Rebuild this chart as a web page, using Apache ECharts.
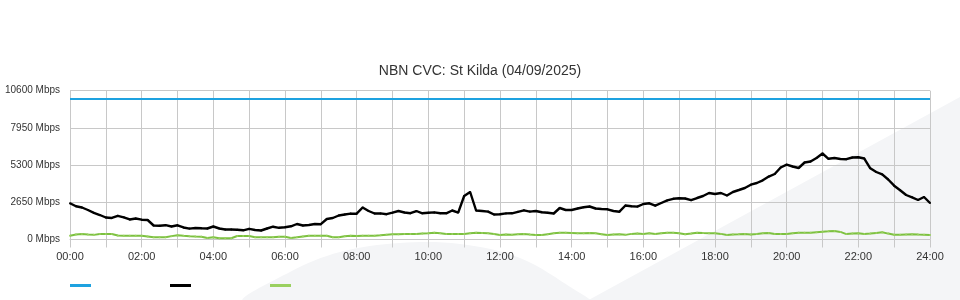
<!DOCTYPE html>
<html>
<head>
<meta charset="utf-8">
<script src="https://cdn.jsdelivr.net/npm/echarts@6/dist/echarts.min.js"></script>
<style>html,body{margin:0;padding:0;background:#fff}#c{width:960px;height:300px}</style>
</head>
<body>
<div id="c"></div>
<script>
// time step in minutes between samples
const stepMinutes = 10;
// capacity (Mbps)
const capacityValue = 10000;
// traffic (black line), Mbps, one value every 10 minutes from 00:00 to 24:00
const trafficIn = [
  2579,2365,2280,2102,1902,1745,1567,1532,1688,1582,1425,1496,1411,1389,997,983,1019,926,1012,855,777,819,798,784,
  926,784,712,712,698,655,762,677,641,784,912,833,869,940,1104,997,1033,1104,1090,1460,1532,1710,1781,1845,
  1838,2280,2030,1852,1859,1802,1909,2030,1923,1874,2030,1866,1902,1931,1866,1866,2066,1916,3099,3384,2066,2030,1988,1781,
  1795,1859,1866,1973,2080,1988,2030,1938,1902,1852,2244,2102,2102,2208,2294,2351,2208,2173,2151,2030,1980,2422,2372,2344,
  2529,2579,2408,2600,2785,2899,2942,2921,2800,2956,3099,3313,3241,3313,3135,3384,3526,3669,3904,4025,4217,4481,4666,5129,
  5329,5201,5094,5485,5557,5806,6127,5749,5806,5735,5721,5842,5856,5770,5072,4809,4638,4274,3833,3512,3170,3006,2814,3028,
  2600
];
// traffic (green line), Mbps
const trafficOut = [
  271,360,392,350,330,392,392,392,290,271,271,271,271,220,157,157,160,240,300,260,228,210,200,100,
  157,85,85,90,249,249,249,157,157,157,157,200,200,107,157,214,271,271,271,271,157,157,230,271,
  249,260,260,270,300,340,370,380,390,392,400,420,440,484,440,392,392,392,392,440,484,470,440,390,
  320,350,330,380,392,350,321,321,380,440,484,484,470,450,440,470,440,380,321,350,370,330,400,420,
  400,440,392,440,484,484,440,370,420,484,460,442,442,400,321,350,370,400,350,392,440,470,392,392,
  392,440,484,484,484,520,556,580,605,540,384,420,442,400,420,470,513,420,340,330,350,370,350,340,
  321
];
const yTicks = [0, 2650, 5300, 7950, 10600];
const xTickLabels = ['00:00','02:00','04:00','06:00','08:00','10:00','12:00','14:00','16:00','18:00','20:00','22:00','24:00'];
const seriesNames = ['Capacity', 'Traffic In', 'Traffic Out'];

const toPairs = arr => arr.map((v, i) => [i * stepMinutes, v]);
const capacityData = trafficIn.map((v, i) => [i * stepMinutes, capacityValue]);

const chart = echarts.init(document.getElementById('c'), null, {renderer: 'canvas'});
chart.setOption({
  animation: false,
  backgroundColor: '#ffffff',
  textStyle: {fontFamily: 'Liberation Sans, Arial, sans-serif'},
  graphic: [
    {type: 'polygon', z: -10, silent: true,
     shape: {smooth: 0.35, points: [[245,302],[290,272],[340,252],[400,243],[460,244],[520,258],[575,290],[590,302]]},
     style: {fill: '#f4f5f7'}},
    {type: 'polygon', z: -10, silent: true,
     shape: {points: [[585,302],[962,96],[962,302]]},
     style: {fill: '#f4f5f7'}}
  ],
  title: {
    text: 'NBN CVC: St Kilda (04/09/2025)',
    left: 'center', top: 64, padding: 0,
    textStyle: {fontSize: 14, fontWeight: 'normal', color: '#333', fontFamily: 'Liberation Sans, Arial, sans-serif'}
  },
  legend: {
    left: 70, top: 284, padding: 0,
    itemWidth: 21, itemHeight: 3, itemGap: 79,
    icon: 'rect',
    formatter: () => '',
    data: seriesNames
  },
  grid: {left: 70, right: 30, top: 90.7, bottom: 60.5, containLabel: false, outerBoundsMode: 'none'},
  xAxis: {
    type: 'value', min: 0, max: 1440, interval: 60,
    axisLine: {show: true, lineStyle: {color: '#c8c8c8', width: 1}},
    axisTick: {show: true, length: 8, lineStyle: {color: '#c8c8c8'}},
    splitLine: {show: true, lineStyle: {color: '#c8c8c8', width: 1}},
    axisLabel: {
      margin: 12, fontSize: 11, color: '#333',
      formatter: v => (v % 120 === 0 ? xTickLabels[v / 120] : '')
    }
  },
  yAxis: {
    type: 'value', min: yTicks[0], max: yTicks[yTicks.length - 1], interval: yTicks[1] - yTicks[0],
    axisLine: {show: false},
    axisTick: {show: false},
    splitLine: {show: true, lineStyle: {color: '#c8c8c8', width: 1}},
    axisLabel: {margin: 10, fontSize: 10, color: '#333', formatter: v => v + ' Mbps'}
  },
  series: [
    {name: seriesNames[0], type: 'line', data: capacityData, showSymbol: false,
     lineStyle: {color: '#1ea2e0', width: 2}, itemStyle: {color: '#1ea2e0'}, z: 3},
    {name: seriesNames[1], type: 'line', data: toPairs(trafficIn), symbol: 'circle', symbolSize: 2, showSymbol: true,
     lineStyle: {color: '#000000', width: 2.4}, itemStyle: {color: '#000000'}, z: 4},
    {name: seriesNames[2], type: 'line', data: toPairs(trafficOut), symbol: 'circle', symbolSize: 2, showSymbol: true,
     lineStyle: {color: '#7cc140', width: 2}, itemStyle: {color: '#9ad060'}, z: 5}
  ]
});
</script>
</body>
</html>
